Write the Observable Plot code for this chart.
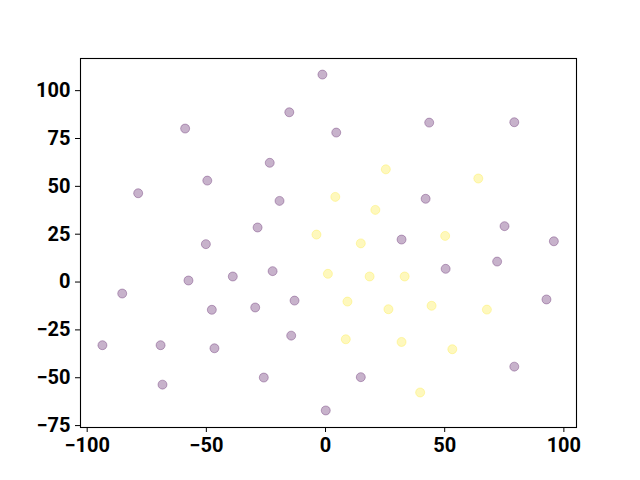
<!DOCTYPE html>
<html>
<head>
<meta charset="utf-8">
<script src="https://cdn.jsdelivr.net/npm/d3@7"></script>
<script src="https://cdn.jsdelivr.net/npm/@observablehq/plot@0.6"></script>
<style>
  html, body { margin: 0; padding: 0; background: white; }
</style>
</head>
<body>
<div id="chart"></div>
<script>
const purpleX = [-1.3, -15.2, -58.9, -23.4, -49.6, -78.6, -19.3, -28.5, -50.2, 4.5, 43.5, 79.2, 42.0, 75.1, 95.8, 31.9, -85.3, -57.5, -38.9, -22.2, -47.7, -29.5, -13.0, -93.6, -69.2, -46.6, -14.4, -68.4, -25.9, 0.1, 72.0, 50.4, 92.7, 79.2, 14.8];
const purpleY = [108.4, 88.7, 80.2, 62.3, 53.0, 46.4, 42.4, 28.5, 19.8, 78.1, 83.3, 83.5, 43.5, 29.2, 21.3, 22.2, -6.0, 0.8, 2.9, 5.7, -14.5, -13.3, -9.7, -33.0, -33.0, -34.6, -28.0, -53.6, -49.9, -67.1, 10.7, 6.9, -9.1, -44.2, -49.7];
const yellowX = [-3.8, 25.3, 64.1, 4.1, 20.9, 14.8, 50.2, 1.0, 18.5, 33.2, 9.2, 26.4, 44.5, 67.7, 8.5, 31.9, 53.2, 39.7];
const yellowY = [24.8, 58.9, 54.1, 44.5, 37.7, 20.2, 24.1, 4.3, 2.9, 2.9, -10.2, -14.2, -12.4, -14.4, -29.9, -31.3, -35.1, -57.7];
const xTicks = [-100, -50, 0, 50, 100];
const yTicks = [-75, -50, -25, 0, 25, 50, 75, 100];
const groups = ["0", "1"];
const groupColors = ["#440154", "#fde725"];

const data = [
  ...purpleX.map((x, i) => ({x, y: purpleY[i], g: groups[0]})),
  ...yellowX.map((x, i) => ({x, y: yellowY[i], g: groups[1]}))
];

const chart = Plot.plot({
  width: 640,
  height: 480,
  marginLeft: 80,
  marginRight: 64,
  marginTop: 58,
  marginBottom: 53,
  style: {fontFamily: "Roboto", fontSize: "20px", fontWeight: "bold", color: "black", background: "white"},
  x: {domain: [-102.8, 105.3]},
  y: {domain: [-76, 116.8]},
  color: {domain: groups, range: groupColors},
  marks: [
    Plot.dot(data, {x: "x", y: "y", r: 4.5, fill: "g", stroke: "g", fillOpacity: 0.3, strokeOpacity: 0.3, strokeWidth: 1}),
    Plot.frame({stroke: "black", strokeWidth: 1.1}),
    Plot.axisX({ticks: xTicks, tickSize: 5, tickPadding: 5, label: null, fontSize: 20, fontWeight: "bold"}),
    Plot.axisY({ticks: yTicks, tickSize: 5, tickPadding: 5, label: null, fontSize: 20, fontWeight: "bold"})
  ]
});
document.getElementById("chart").appendChild(chart);
</script>
</body>
</html>
